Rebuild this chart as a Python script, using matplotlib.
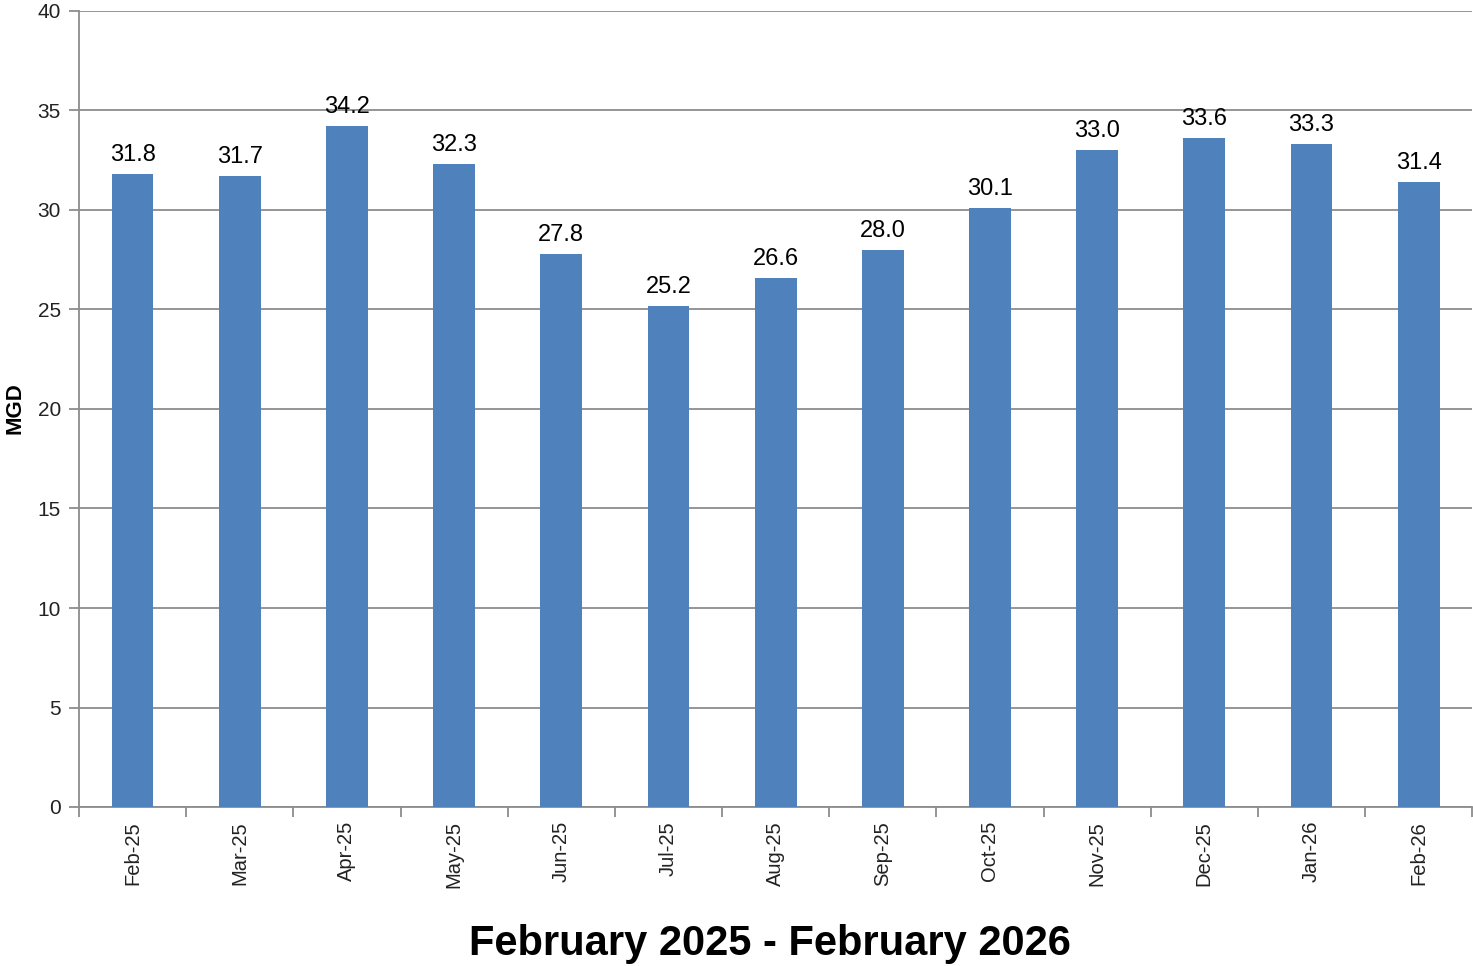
import matplotlib
matplotlib.use("Agg")
import matplotlib.pyplot as plt

months = ["Feb-25", "Mar-25", "Apr-25", "May-25", "Jun-25", "Jul-25", "Aug-25",
          "Sep-25", "Oct-25", "Nov-25", "Dec-25", "Jan-26", "Feb-26"]
values = [31.8, 31.7, 34.2, 32.3, 27.8, 25.2, 26.6, 28.0, 30.1, 33.0, 33.6, 33.3, 31.4]
yticks = [0, 5, 10, 15, 20, 25, 30, 35, 40]

plt.rcParams['font.family'] = ['Liberation Sans', 'DejaVu Sans']

fig = plt.figure(figsize=(14.73, 9.66), dpi=100)
ax = fig.add_axes([79/1473, 1 - 807/966, 1 - 79/1473 - 0.0005, (807 - 11)/966])

x = list(range(len(months)))
bars = ax.bar(x, values, width=0.39, color="#4F81BD", zorder=3)
for xi, v in zip(x, values):
    ax.text(xi, v + 0.4, f"{v:.1f}", ha="center", va="bottom", fontsize=17, color="#000000")

ax.set_xlim(-0.5, len(months) - 0.5)
ax.set_ylim(0, 40)
ax.set_yticks(yticks)
ax.set_yticklabels([str(t) for t in yticks], fontsize=15, color="#222222")
ax.yaxis.grid(True, color="#8C8C8C", linewidth=1.3, zorder=0)
ax.set_axisbelow(True)

ax.set_xticks(x)
ax.set_xticklabels(months, rotation=90, fontsize=14.5, color="#222222")
ax.tick_params(axis="x", length=0, pad=10)
ax.set_xticks([i - 0.5 for i in range(len(months) + 1)], minor=True)
ax.tick_params(axis="x", which="minor", length=7, color="#8C8C8C", width=1.3)
ax.tick_params(axis="y", length=7, color="#8C8C8C", width=1.3, pad=6)

for s in ["top", "right"]:
    ax.spines[s].set_visible(False)
ax.spines["left"].set_color("#8C8C8C")
ax.spines["left"].set_linewidth(1.3)
ax.spines["bottom"].set_color("#8C8C8C")
ax.spines["bottom"].set_linewidth(1.3)

fig.text(15/1473, 1 - 408/966, "MGD", rotation=90, ha="center", va="center",
         fontsize=16, fontweight="bold")
fig.text(770/1473, 1 - 944/966, "February 2025 - February 2026", ha="center", va="center",
         fontsize=30, fontweight="bold")

fig.savefig("out.png", dpi=100)
